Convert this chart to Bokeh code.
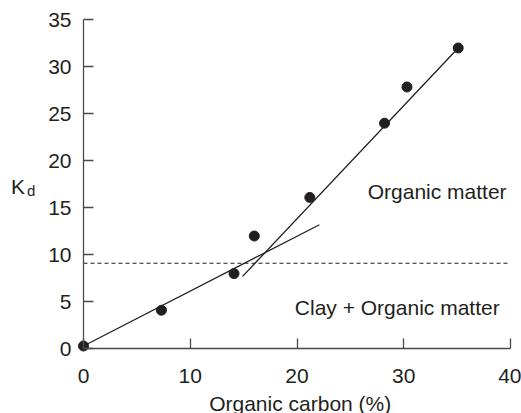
from bokeh.plotting import figure
from bokeh.models import FixedTicker, Label, Range1d
from bokeh.embed import file_html
from bokeh.resources import INLINE

# Data
organic_carbon = [0.0, 7.3, 14.1, 16.0, 21.2, 28.2, 30.3, 35.1]
kd_values = [0.3, 4.1, 8.0, 12.0, 16.1, 24.0, 27.85, 32.0]

# Fitted lines (end points)
clay_fit_x = [0.0, 22.1]
clay_fit_y = [0.3, 13.2]
om_fit_x = [14.9, 35.1]
om_fit_y = [7.7, 32.0]

threshold_x = [0, 40]
threshold_y = [9.1, 9.1]

x_ticks = [0, 10, 20, 30, 40]
y_ticks = [0, 5, 10, 15, 20, 25, 30, 35]

FONT = "Liberation Sans"
INK = "#231f20"
AXIS = "#4a4a4a"

W, H = 521, 413
# the plotting frame covers the whole canvas; axes sit at x=0 / y=0
p = figure(width=W, height=H, output_backend="svg", toolbar_location=None,
           x_range=Range1d(-7.775, 41.03), y_range=Range1d(-6.88, 37.05),
           min_border=0)
p.title.visible = False
p.outline_line_color = None
p.grid.visible = False
p.background_fill_color = "white"
p.border_fill_color = "white"

p.xaxis.fixed_location = 0
p.yaxis.fixed_location = 0
p.xaxis.bounds = (0, 40)
p.yaxis.bounds = (0, 35)

for ax in (p.xaxis[0], p.yaxis[0]):
    ax.major_tick_in = 10
    ax.major_tick_out = 0
    ax.minor_tick_line_color = None
    ax.axis_line_color = AXIS
    ax.axis_line_width = 1.3
    ax.major_tick_line_color = AXIS
    ax.major_tick_line_width = 1.3
    ax.major_label_text_font = FONT
    ax.major_label_text_font_size = "21px"
    ax.major_label_text_color = INK

p.xaxis.ticker = FixedTicker(ticks=x_ticks)
p.yaxis.ticker = FixedTicker(ticks=y_ticks)
p.xaxis.major_label_standoff = 20
p.yaxis.major_label_standoff = 12

p.line(threshold_x, threshold_y, line_color=INK, line_width=1.1, line_dash="4 3")
p.line(clay_fit_x, clay_fit_y, line_color=INK, line_width=1.3)
p.line(om_fit_x, om_fit_y, line_color=INK, line_width=1.3)
p.scatter(organic_carbon, kd_values, size=10, fill_color=INK, line_color=INK)

def add_label(x, y, text, size="21px", align="left"):
    p.add_layout(Label(x=x, y=y, text=text, text_font=FONT, text_font_size=size,
                       text_color=INK, text_align=align, text_baseline="alphabetic"))

add_label(33.13, 16.7, "Organic matter", align="center")
add_label(29.39, 4.39, "Clay + Organic matter", align="center")
add_label(20.3, -5.82, "Organic carbon (%)", align="center")
add_label(-6.8, 17.23, "K")
add_label(-5.3, 16.8, "d", size="15px")

open("out.html", "w").write(file_html(p, INLINE))
